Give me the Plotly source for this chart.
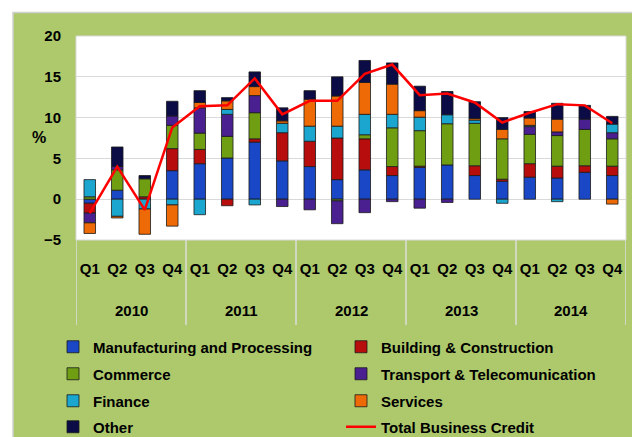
import plotly.graph_objects as go

years = ["2010"] * 4 + ["2011"] * 4 + ["2012"] * 4 + ["2013"] * 4 + ["2014"] * 4
quarters = ["Q1", "Q2", "Q3", "Q4"] * 5

manufacturing = [-0.5, 1.1, 0, 3.5, 4.35, 5.05, 7.0, 4.7, 4.0, 2.4, 3.6, 2.9, 3.9, 4.2, 2.9, 2.2, 2.7, 2.6, 3.3, 2.9]
building = [-1.2, 0, 0.3, 2.7, 1.75, -0.8, 0.4, 3.45, 3.1, 5.1, 3.8, 1.1, 0.15, 0, 1.2, 0.25, 1.65, 1.45, 0.8, 1.15]
commerce = [0.3, 2.5, 2.2, 2.85, 2.0, 2.65, 3.2, 0, 0, -0.2, 0.5, 4.75, 4.35, 5.05, 5.2, 4.95, 3.6, 3.75, 4.45, 3.35]
transport = [-1.2, 0.4, 0, 1.15, 3.1, 2.7, 2.1, -0.9, -1.3, -2.8, -1.65, -0.3, -1.1, -0.4, 0, 0, 0.95, 0.45, 1.25, 0.75]
finance = [2.1, -2.1, -1.2, -0.7, -1.9, 0.6, -0.7, 1.15, 1.85, 1.45, 2.5, 1.65, 1.65, 1.1, 0.4, -0.5, 0.15, -0.3, 0, 1.05]
services = [-1.3, -0.2, -3.1, -2.6, 0.65, 1.05, 1.1, 0.3, 3.3, 3.7, 3.9, 3.7, 0.8, 0, 0.2, 1.15, 0.9, 1.55, 0, -0.6]
other = [0, 2.4, 0.4, 1.8, 1.45, 0.4, 1.8, 1.6, 1.05, 2.35, 2.7, 2.6, 3.0, 2.85, 2.05, 1.45, 0.8, 1.95, 1.7, 0.95]
total = [-1.7, 4.0, -1.3, 8.8, 11.4, 11.5, 14.8, 10.4, 12.05, 12.05, 15.35, 16.5, 12.75, 12.95, 11.85, 9.4, 10.6, 11.65, 11.5, 9.3]

series_names = ["Manufacturing and Processing", "Building & Construction", "Commerce",
                "Transport & Telecomunication", "Finance", "Services", "Other"]
series_values = [manufacturing, building, commerce, transport, finance, services, other]
series_colors = ["#1a47c6", "#b80d0d", "#6f9e12", "#4a1f8f", "#1aa6cf", "#ee6a06", "#0b0c45"]
total_name = "Total Business Credit"

FONT = "Liberation Sans, Arial, sans-serif"

# page body adds an 8px offset; figure is sized to fit the 640x437 window
W, H = 632, 429
L, T, PW, PH = 68, 28, 550, 204
R, B = W - L - PW, H - T - PH

def px_x(p):
    return (p - L) / PW

def px_y(p):
    return (T + PH - p) / PH

x_labels = [f"{y} {q}" for y, q in zip(years, quarters)]
legend_ids = ["legend", "legend2", "legend3", "legend4"]

fig = go.Figure()
for i, (name, vals, col) in enumerate(zip(series_names, series_values, series_colors)):
    fig.add_trace(go.Bar(
        x=x_labels, y=[v if v != 0 else None for v in vals], name=name,
        marker=dict(color=col, line=dict(color="#1a1a1a", width=0.8)),
        legend=legend_ids[i // 2],
    ))
fig.add_trace(go.Scatter(
    x=x_labels, y=total, name=total_name, mode="lines",
    line=dict(color="#ff0000", width=2.5), legend=legend_ids[3],
))

# panel background and plot area
fig.add_shape(type="rect", xref="paper", yref="paper",
              x0=px_x(5), x1=px_x(W + 2), y0=px_y(H + 2), y1=px_y(4.5),
              fillcolor="#adc96c", line=dict(color="#d0d0d0", width=1.5), layer="below")
fig.add_shape(type="rect", xref="paper", yref="paper", x0=0, x1=1, y0=0, y1=1,
              fillcolor="white", line=dict(color="#d9d9d9", width=1), layer="below")

# year group labels and dividers
unique_years = list(dict.fromkeys(years))
for yv in unique_years:
    idx = [i for i, y in enumerate(years) if y == yv]
    fig.add_annotation(text=f"<b>{yv}</b>", xref="x", yref="paper",
                       x=(idx[0] + idx[-1]) / 2, y=px_y(302), yanchor="middle",
                       showarrow=False, font=dict(family=FONT, size=15, color="black"))
bounds = [i for i in range(len(years)) if i == 0 or years[i] != years[i - 1]] + [len(years)]
for b in bounds:
    fig.add_shape(type="line", xref="x", yref="paper", x0=b - 0.5, x1=b - 0.5,
                  y0=0, y1=px_y(317), line=dict(color="#dcdcdc", width=1.5), layer="above")

fig.add_annotation(text="<b>%</b>", xref="paper", yref="paper", x=px_x(22), y=px_y(129),
                   showarrow=False, font=dict(family=FONT, size=16, color="black"))

row_y = [339, 366, 393, 419]
legend_common = dict(orientation="h", x=px_x(45), xanchor="left", yanchor="middle",
                     entrywidth=243, entrywidthmode="pixels",
                     font=dict(family=FONT, size=15, color="black", weight="bold"),
                     bgcolor="rgba(0,0,0,0)", traceorder="normal")

layout_legends = {lid: dict(legend_common, y=px_y(ry)) for lid, ry in zip(legend_ids, row_y)}

fig.update_layout(
    template="none",
    width=W, height=H,
    margin=dict(l=L, r=R, t=T, b=B, autoexpand=False),
    barmode="relative", bargap=0.58,
    paper_bgcolor="white", plot_bgcolor="white",
    font=dict(family=FONT, size=15, color="black"),
    showlegend=True,
    xaxis=dict(type="category", tickvals=x_labels, ticktext=quarters,
               tickfont=dict(family=FONT, size=15, weight="bold"), showgrid=False, tickangle=0,
               showline=False, ticks="", automargin=False, ticklabelstandoff=18,
               range=[-0.5, len(x_labels) - 0.5]),
    yaxis=dict(range=[-5, 20], dtick=5, showgrid=True, gridcolor="#d9d9d9", zeroline=False,
               showline=False, ticks="", automargin=False,
               tickfont=dict(family=FONT, size=15, weight="bold"), ticklabelstandoff=14),
    **layout_legends,
)

fig.write_html("out.html")
